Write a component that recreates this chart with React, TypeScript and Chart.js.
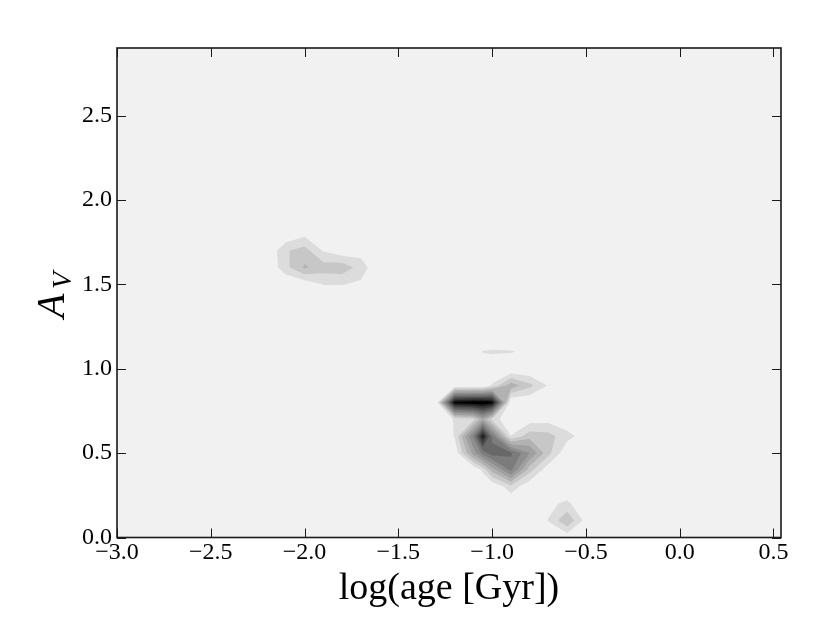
import React, { useEffect, useRef } from "react";
import { Chart, registerables } from "chart.js";

Chart.register(...registerables);

// Axis ranges and ticks
const xRange = [-3.0, 0.54];
const yRange = [0.0, 2.9];
const xTicks = [-3.0, -2.5, -2.0, -1.5, -1.0, -0.5, 0.0, 0.5];
const yTicks = [0.0, 0.5, 1.0, 1.5, 2.0, 2.5];

// Contour thresholds and their grey levels (gray_r-like map)
const levels = [1, 2, 3, 4, 5, 6, 7, 8, 9, 10, 11];
const levelGrays = [220, 199, 178, 160, 142, 124, 104, 82, 58, 32, 0];

// Density grid of the left blob (rows = y, cols = x)
const leftX = [-2.2, -2.1, -2.0, -1.9, -1.8, -1.7, -1.6];
const leftY = [1.4, 1.5, 1.6, 1.7, 1.8];
const leftZ = [
  [0, 0, 0, 0, 0, 0, 0],
  [0, 0, 0.3, 1.05, 1.05, 0.8, 0],
  [0, 1.7, 3.15, 2.5, 2.6, 1.6, 0],
  [0, 1.9, 2.4, 0.9, 0.3, 0.5, 0],
  [0, 0, 0.7, 0, 0, 0, 0],
];

// Density grid of the central complex
const midX = [-1.4, -1.3, -1.2, -1.1, -1.05, -1.0, -0.9, -0.8, -0.7, -0.6, -0.5, -0.4];
const midY = [0.2, 0.3, 0.4, 0.5, 0.6, 0.7, 0.8, 0.9, 1.0, 1.1, 1.2];
const midZ = [
  [0, 0, 0, 0, 0, 0, 0, 0, 0, 0, 0, 0],
  [0, 0, 0, 0, 0, 0, 1.6, 0.2, 0, 0, 0, 0],
  [0, 0, 0, 0, 1.2, 3.4, 6.3, 2.4, 0.3, 0, 0, 0],
  [0, 0, 0.3, 4.4, 6.4, 7.6, 7.2, 5, 2.3, 0.2, 0, 0],
  [0, 0, 1.05, 6.2, 10.8, 6.6, 1.05, 2.6, 2.4, 1.34, 0.51, 0],
  [0, 0, 1.1, 1.6, 4, 1.67, 0, 0.5, 0.6, 0.3, 0, 0],
  [0, 0, 11.5, 11.9, 11.9, 11.4, 0, 0, 0, 0, 0, 0],
  [0, 0, 0, 0, 0, 1.14, 3.6, 2.3, 0.9, 0, 0, 0],
  [0, 0, 0, 0, 0, 0, 0, 0, 0, 0, 0, 0],
  [0, 0, 0, 0.6, 1.05, 1.15, 1.08, 0.72, 0, 0, 0, 0],
  [0, 0, 0, 0, 0, 0, 0, 0, 0, 0, 0, 0],
];

// Density grid of the small blob near the bottom
const botX = [-0.8, -0.7, -0.6, -0.5, -0.4];
const botY = [0.0, 0.1, 0.2, 0.3];
const botZ = [
  [0, 0, 0.3, 0, 0],
  [0, 1.05, 2.88, 0.6, 0],
  [0, 0.73, 1.25, 0, 0],
  [0, 0, 0, 0, 0],
];

type Grid = { xs: number[]; ys: number[]; z: number[][] };
const grids: Grid[] = [
  { xs: leftX, ys: leftY, z: leftZ },
  { xs: midX, ys: midY, z: midZ },
  { xs: botX, ys: botY, z: botZ },
];

function cellPolygon(g: Grid, i: number, j: number, t: number): number[][] {
  const c = [
    [g.xs[i], g.ys[j], g.z[j][i]],
    [g.xs[i + 1], g.ys[j], g.z[j][i + 1]],
    [g.xs[i + 1], g.ys[j + 1], g.z[j + 1][i + 1]],
    [g.xs[i], g.ys[j + 1], g.z[j + 1][i]],
  ];
  const pts: number[][] = [];
  for (let k = 0; k < 4; k++) {
    const a = c[k];
    const b = c[(k + 1) % 4];
    const ina = a[2] >= t;
    const inb = b[2] >= t;
    if (ina) pts.push([a[0], a[1]]);
    if (ina !== inb) {
      const f = (t - a[2]) / (b[2] - a[2]);
      pts.push([a[0] + f * (b[0] - a[0]), a[1] + f * (b[1] - a[1])]);
    }
  }
  return pts;
}

const fmt = (v: number) => (v < -1e-9 ? "\u2212" : "") + Math.abs(v).toFixed(1);

const backgroundPlugin = {
  id: "bg",
  beforeDraw(chart: any) {
    const { ctx, chartArea: a } = chart;
    ctx.save();
    ctx.fillStyle = "#ffffff";
    ctx.fillRect(0, 0, chart.width, chart.height);
    ctx.fillStyle = "#f1f1f1";
    ctx.fillRect(a.left, a.top, a.right - a.left, a.bottom - a.top);
    ctx.restore();
  },
};

const contourPlugin = {
  id: "contours",
  beforeDatasetsDraw(chart: any) {
    const { ctx, chartArea: a, scales } = chart;
    const sx = scales.x;
    const sy = scales.y;
    ctx.save();
    ctx.beginPath();
    ctx.rect(a.left, a.top, a.right - a.left, a.bottom - a.top);
    ctx.clip();
    levels.forEach((t, li) => {
      ctx.beginPath();
      for (const g of grids) {
        for (let j = 0; j < g.ys.length - 1; j++) {
          for (let i = 0; i < g.xs.length - 1; i++) {
            const poly = cellPolygon(g, i, j, t);
            if (poly.length < 3) continue;
            poly.forEach((p, k) => {
              const px = sx.getPixelForValue(p[0]);
              const py = sy.getPixelForValue(p[1]);
              if (k === 0) ctx.moveTo(px, py);
              else ctx.lineTo(px, py);
            });
            ctx.closePath();
          }
        }
      }
      const gr = levelGrays[li];
      ctx.fillStyle = `rgb(${gr},${gr},${gr})`;
      ctx.fill("nonzero");
    });
    ctx.restore();
  },
};

const framePlugin = {
  id: "frame",
  afterDraw(chart: any) {
    const { ctx, chartArea: a, scales } = chart;
    const L = 9;
    ctx.save();
    ctx.strokeStyle = "#1a1a1a";
    ctx.lineWidth = 1;
    ctx.beginPath();
    xTicks.forEach((v) => {
      const px = Math.round(scales.x.getPixelForValue(v)) + 0.5;
      ctx.moveTo(px, a.bottom);
      ctx.lineTo(px, a.bottom - L);
      ctx.moveTo(px, a.top);
      ctx.lineTo(px, a.top + L);
    });
    yTicks.forEach((v) => {
      const py = Math.round(scales.y.getPixelForValue(v)) + 0.5;
      ctx.moveTo(a.left, py);
      ctx.lineTo(a.left + L, py);
      ctx.moveTo(a.right, py);
      ctx.lineTo(a.right - L, py);
    });
    ctx.stroke();
    ctx.lineWidth = 1.6;
    ctx.strokeRect(a.left, a.top, a.right - a.left, a.bottom - a.top);

    // y-axis label A_V
    ctx.fillStyle = "#000";
    ctx.translate(64, 318);
    ctx.rotate(-Math.PI / 2);
    ctx.textAlign = "left";
    ctx.textBaseline = "alphabetic";
    ctx.font = "italic 40px 'Liberation Serif'";
    ctx.fillText("A", 0, 0);
    ctx.font = "italic 28px 'Liberation Serif'";
    ctx.fillText("V", 29, 7);
    ctx.restore();
  },
};

export default function App() {
  const ref = useRef<HTMLCanvasElement | null>(null);
  useEffect(() => {
    document.body.style.margin = "0";
    const canvas = ref.current;
    if (!canvas) return;
    const tickFont = { family: "'Liberation Serif'", size: 24 };
    const chart = new Chart(canvas, {
      type: "scatter",
      data: { datasets: [{ data: [], pointRadius: 0 }] },
      options: {
        animation: false,
        responsive: false,
        devicePixelRatio: 1,
        layout: { padding: { top: 48, right: 49, left: 0, bottom: 0 } },
        plugins: { legend: { display: false }, tooltip: { enabled: false } },
        scales: {
          x: {
            type: "linear",
            min: xRange[0],
            max: xRange[1],
            afterBuildTicks: (s: any) => {
              s.ticks = xTicks.map((v) => ({ value: v }));
            },
            afterFit: (s: any) => {
              s.height = 88.5;
            },
            grid: { display: false, drawTicks: false },
            border: { display: false },
            ticks: {
              font: tickFont,
              color: "#000",
              padding: 1,
              maxRotation: 0,
              autoSkip: false,
              callback: (v: any) => fmt(Number(v)),
            },
            title: {
              display: true,
              text: "log(age [Gyr])",
              color: "#000",
              font: { family: "'Liberation Serif'", size: 38 },
              padding: { top: 0, bottom: 14 },
            },
          },
          y: {
            type: "linear",
            min: yRange[0],
            max: yRange[1],
            afterBuildTicks: (s: any) => {
              s.ticks = yTicks.map((v) => ({ value: v }));
            },
            afterFit: (s: any) => {
              s.width = 117;
            },
            grid: { display: false, drawTicks: false },
            border: { display: false },
            ticks: {
              font: tickFont,
              color: "#000",
              padding: 5,
              autoSkip: false,
              callback: (v: any) => fmt(Number(v)),
            },
          },
        },
      },
      plugins: [backgroundPlugin, contourPlugin, framePlugin],
    });
    return () => chart.destroy();
  }, []);
  return (
    <canvas
      ref={ref}
      width={830}
      height={626}
      style={{ display: "block", width: 830, height: 626 }}
    />
  );
}
